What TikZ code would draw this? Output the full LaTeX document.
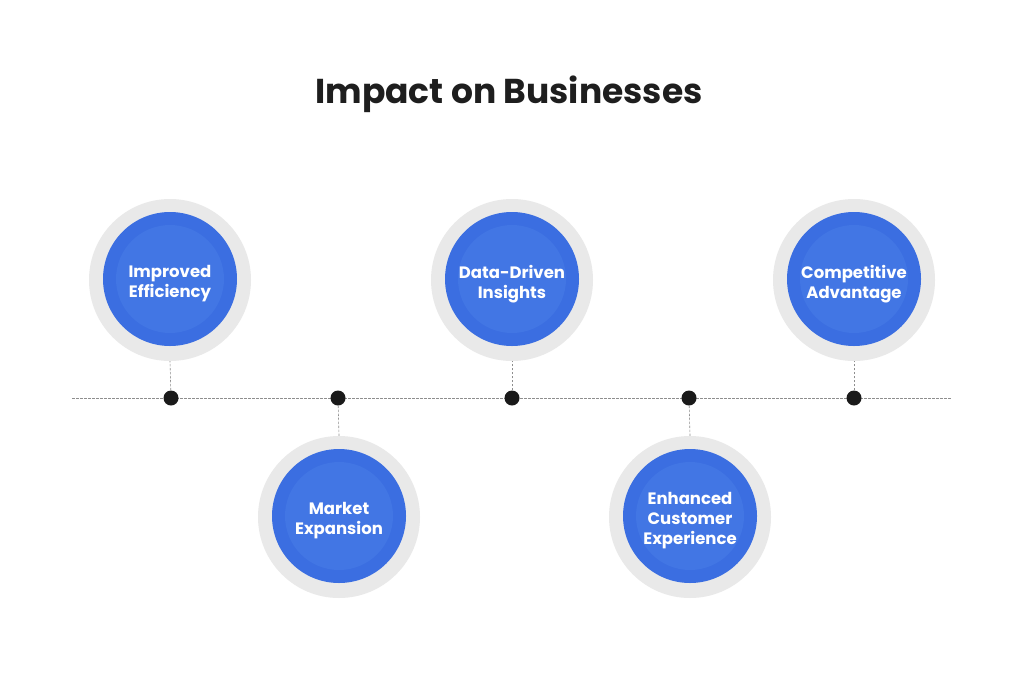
\documentclass[tikz,border=0pt]{standalone}
\usepackage{fontspec}
\setmainfont{Poppins}
\definecolor{ringgray}{HTML}{E9E9E9}
\definecolor{blueout}{HTML}{3B6EE1}
\definecolor{bluein}{HTML}{4276E4}
\definecolor{dotcol}{HTML}{1A1A1A}
\definecolor{titlecol}{HTML}{1E1E1E}
\definecolor{linecol}{HTML}{8E8E8E}
\tikzset{
  ring/.style={circle, fill=ringgray, minimum size=162pt, inner sep=0pt},
  disc/.style={circle, fill=blueout, minimum size=134pt, inner sep=0pt},
  core/.style={circle, fill=bluein, minimum size=108pt, inner sep=0pt},
  label/.style={text=white, font=\fontsize{16.5}{20}\selectfont\bfseries, align=center},
  tdot/.style={circle, fill=dotcol, minimum size=15pt, inner sep=0pt},
  axisline/.style={draw=linecol, line width=0.6pt, dash pattern=on 2.5pt off 1.5pt},
  stem/.style={draw=linecol, line width=0.6pt, dash pattern=on 2.5pt off 1.5pt},
}
\begin{document}
\begin{tikzpicture}[x=1pt,y=-1pt]
\useasboundingbox (0,0) rectangle (1024,683);
\fill[white] (0,0) rectangle (1024,683);
\node[text=titlecol, font=\fontsize{34.5}{40}\selectfont\bfseries] (title) at (509,94) {Impact on Businesses};
% axis
\coordinate (L) at (72,398);
\coordinate (R) at (952,398);
\draw[axisline] (L) -- (R);
% circles
\foreach \n/\x/\y/\t in {a/170/280/{Improved\\Efficiency},
                          b/339/517/{Market\\Expansion},
                          c/512/280/{Data-Driven\\Insights},
                          d/690/517/{Enhanced\\Customer\\Experience},
                          e/854/280/{Competitive\\Advantage}}{
  \node[ring] (\n ring) at (\x,\y) {};
  \node[disc] (\n disc) at (\x,\y-1) {};
  \node[core] (\n core) at (\x,\y-1) {};
  \node[label] (\n text) at (\x,\y+4) {\t};
}
% dots
\node[tdot] (da) at (171,398) {};
\node[tdot] (db) at (338,398) {};
\node[tdot] (dc) at (512,398) {};
\node[tdot] (dd) at (689,398) {};
\node[tdot] (de) at (854,398) {};
% stems
\draw[stem] (da) -- (aring.south);
\draw[stem] (db) -- (bring.north);
\draw[stem] (dc) -- (cring.south);
\draw[stem] (dd) -- (dring.north);
\draw[stem] (de) -- (ering.south);
\end{tikzpicture}
\end{document}
